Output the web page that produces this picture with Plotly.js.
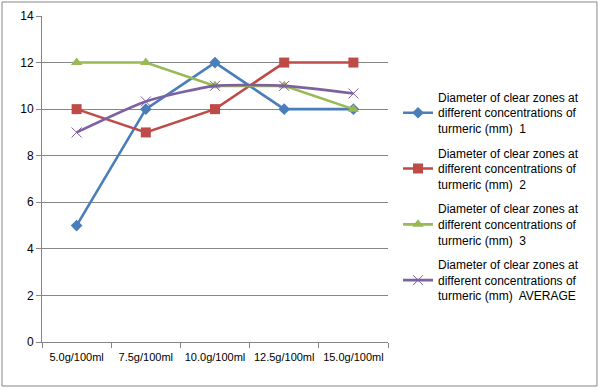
<!DOCTYPE html>
<html><head><meta charset="utf-8">
<script src="https://cdn.plot.ly/plotly-3.0.1.min.js"></script>
<style>body{margin:0;background:#fff}#c{width:600px;height:389px}</style>
</head><body><div id="c"></div>
<script>
var categories = ["5.0g/100ml","7.5g/100ml","10.0g/100ml","12.5g/100ml","15.0g/100ml"];
var series1 = [5, 10, 12, 10, 10];
var series2 = [10, 9, 10, 12, 12];
var series3 = [12, 12, 11, 11, 10];
var seriesAvg = [9, 10.33, 11, 11, 10.67];
var names = [
 "Diameter of clear zones at<br>different concentrations of<br>turmeric (mm)  1",
 "Diameter of clear zones at<br>different concentrations of<br>turmeric (mm)  2",
 "Diameter of clear zones at<br>different concentrations of<br>turmeric (mm)  3",
 "Diameter of clear zones at<br>different concentrations of<br>turmeric (mm)  AVERAGE"
];
var colors = ["#4a7ebb","#be4b48","#98b954","#7d60a0"];
var symbols = ["diamond","square","triangle-up","x-thin"];
var sizes = [9,10,10,10];
var data = [series1, series2, series3, seriesAvg].map(function(v,i){
  return {x:categories, y:v, type:'scatter', mode:'lines+markers', name:names[i],
    legendgroup:'g'+i,
    line:{color:colors[i], width:2.6, shape: i===3?'spline':'linear', smoothing:0.6},
    marker:{symbol:symbols[i], size:sizes[i], color:colors[i], line:{color:colors[i], width: i===3?1:0}}};
});
var layout = {
  width:600, height:389,
  margin:{l:42, r:212, t:16, b:47},
  paper_bgcolor:'#fff', plot_bgcolor:'#fff',
  font:{family:'"Liberation Sans", Arial, sans-serif', size:12, color:'#000'},
  xaxis:{type:'category', showgrid:false, showline:true, linecolor:'#868686', linewidth:1,
    ticks:'outside', tickson:'boundaries', ticklen:5, tickcolor:'#868686',
    tickfont:{size:11}, tickangle:0, ticklabelstandoff:5, range:[-0.5,4.5], fixedrange:true},
  yaxis:{range:[0,14], dtick:2, showgrid:true, gridcolor:'#868686', gridwidth:1,
    showline:true, linecolor:'#868686', ticks:'outside', ticklen:5, tickcolor:'#868686',
    zeroline:false, tickfont:{size:12}},
  legend:{x:1.029, y:0.795, xanchor:'left', yanchor:'top', tracegroupgap:6,
    font:{size:12}, bgcolor:'rgba(0,0,0,0)', itemwidth:30},
  showlegend:true,
  shapes:[{type:'rect', xref:'paper', yref:'paper', x0:-0.1156, x1:1.604, y0:-0.135, y1:1.043,
    line:{color:'#868686', width:1}, fillcolor:'rgba(0,0,0,0)'}]
};
Plotly.newPlot('c', data, layout, {displayModeBar:false, staticPlot:true});
</script></body></html>
